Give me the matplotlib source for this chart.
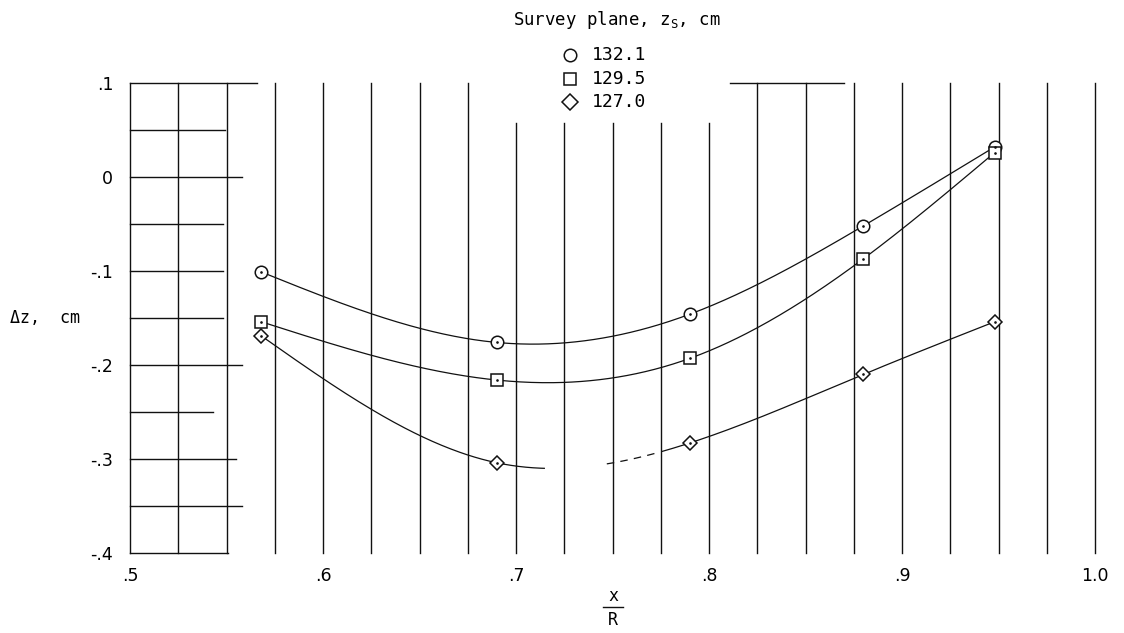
import numpy as np
import matplotlib
matplotlib.use("Agg")
import matplotlib.pyplot as plt
from matplotlib.lines import Line2D

plt.rcParams['mathtext.fontset'] = 'custom'
plt.rcParams['mathtext.rm'] = 'DejaVu Sans Mono'
plt.rcParams['mathtext.default'] = 'regular'

# ---------------- data ----------------
x_r = [0.568, 0.690, 0.790, 0.880, 0.948]
dz_132_1 = [-0.101, -0.176, -0.146, -0.052, 0.032]
dz_129_5 = [-0.154, -0.216, -0.193, -0.087, 0.026]
dz_127_0 = [-0.169, -0.304, -0.283, -0.210, -0.154]
series_labels = ['132.1', '129.5', '127.0']
series_markers = ['o', 's', 'D']

x_ticks = [0.5, 0.6, 0.7, 0.8, 0.9, 1.0]
x_tick_labels = ['.5', '.6', '.7', '.8', '.9', '1.0']
y_ticks = [0.1, 0.0, -0.1, -0.2, -0.3, -0.4]
y_tick_labels = ['.1', '0', '-.1', '-.2', '-.3', '-.4']

# grid (graph paper) description
vgrid_x = np.round(np.arange(0.5, 1.0001, 0.025), 3)
short_top_x = [0.7, 0.725, 0.75, 0.775, 0.8]   # lines that start lower (legend gap)
short_top_y = 0.057
hgrid_y = [0.1, 0.05, 0.0, -0.05, -0.1, -0.15, -0.2, -0.25, -0.3, -0.35, -0.4]
hgrid_end = [0.566, 0.549, 0.558, 0.548, 0.548, 0.548, 0.558, 0.543, 0.555, 0.558, 0.551]
top_seg = (0.811, 0.870)

# curve for 127.0 has a gap
gap_127 = (0.715, 0.747)
dash_127 = (0.747, 0.775)


def natural_spline(x, y, xs):
    x = np.asarray(x, float); y = np.asarray(y, float)
    n = len(x); h = np.diff(x)
    A = np.zeros((n, n)); b = np.zeros(n)
    A[0, 0] = 1; A[-1, -1] = 1
    for i in range(1, n - 1):
        A[i, i - 1] = h[i - 1]; A[i, i] = 2 * (h[i - 1] + h[i]); A[i, i + 1] = h[i]
        b[i] = 3 * ((y[i + 1] - y[i]) / h[i] - (y[i] - y[i - 1]) / h[i - 1])
    c = np.linalg.solve(A, b)
    out = np.empty_like(xs)
    for k, xv in enumerate(xs):
        i = min(max(np.searchsorted(x, xv) - 1, 0), n - 2)
        t = xv - x[i]
        bi = (y[i + 1] - y[i]) / h[i] - h[i] * (2 * c[i] + c[i + 1]) / 3
        di = (c[i + 1] - c[i]) / (3 * h[i])
        out[k] = y[i] + bi * t + c[i] * t ** 2 + di * t ** 3
    return out


fig = plt.figure(figsize=(11.24, 6.33), dpi=100)
W, H = 1124, 633
ax = fig.add_axes([130 / W, 1 - 553 / H, 965 / W, 470 / H])
ax.set_xlim(0.5, 1.0)
ax.set_ylim(-0.4, 0.1)
for s in ax.spines.values():
    s.set_visible(False)

lc = '#111111'
# vertical grid lines
for xv in vgrid_x:
    top = short_top_y if any(abs(xv - s) < 1e-6 for s in short_top_x) else 0.1
    ax.plot([xv, xv], [-0.4, top], color=lc, lw=1.0, clip_on=False, zorder=1)
# horizontal lines on the left
for yv, xe in zip(hgrid_y, hgrid_end):
    ax.plot([0.5, xe], [yv, yv], color=lc, lw=1.0, clip_on=False, zorder=1)
ax.plot(list(top_seg), [0.1, 0.1], color=lc, lw=1.0, clip_on=False, zorder=1)

# curves
xs = np.linspace(x_r[0], x_r[-1], 400)
for ys, mk in zip([dz_132_1, dz_129_5, dz_127_0], series_markers):
    yc = natural_spline(x_r, ys, xs)
    if mk == 'D':
        solid = yc.copy()
        solid[(xs > gap_127[0]) & (xs < dash_127[1])] = np.nan
        ax.plot(xs, solid, color=lc, lw=0.9, zorder=2)
        m = (xs >= dash_127[0]) & (xs <= dash_127[1])
        ax.plot(xs[m], yc[m], color=lc, lw=0.9, ls=(0, (6, 5)), zorder=2)
    else:
        ax.plot(xs, yc, color=lc, lw=0.9, zorder=2)
    ms = {'o': 9, 's': 8, 'D': 7.5}[mk]
    ax.plot(x_r, ys, ls='none', marker=mk, ms=ms, mfc='white', mec=lc, mew=1.1, zorder=3)
    ax.plot(x_r, ys, ls='none', marker='.', ms=1.8, color=lc, zorder=4)

# ticks
ax.set_xticks(x_ticks)
ax.set_xticklabels(x_tick_labels, fontsize=12.5, family='DejaVu Sans')
ax.set_yticks(y_ticks)
ax.set_yticklabels(y_tick_labels, fontsize=12.5, family='DejaVu Sans')
ax.tick_params(axis='x', length=0, pad=10)
ax.tick_params(axis='y', length=0, pad=12)

# axis labels
fig.text(10 / W, 1 - 318 / H, 'Δz,  cm', fontsize=12, family='DejaVu Sans Mono',
         ha='left', va='center')
fig.text(613 / W, 1 - 596 / H, 'x', fontsize=12, family='DejaVu Sans Mono', ha='center', va='center')
fig.text(613 / W, 1 - 620 / H, 'R', fontsize=12, family='DejaVu Sans Mono', ha='center', va='center')
fig.add_artist(Line2D([603 / W, 623 / W], [1 - 607 / H, 1 - 607 / H], color=lc, lw=1.0,
                      transform=fig.transFigure))

# legend
fig.text(617 / W, 1 - 20 / H, r'Survey plane, z$_{\mathrm{S}}$, cm', fontsize=12.5,
         family='DejaVu Sans Mono', ha='center', va='center')
for i, (lab, mk) in enumerate(zip(series_labels, series_markers)):
    yy = 1 - (55 + 23.5 * i) / H
    ms = {'o': 9, 's': 8, 'D': 8}[mk]
    fig.add_artist(Line2D([570 / W], [yy], marker=mk, ms=ms, mfc='white', mec=lc, mew=1.1,
                          ls='none', transform=fig.transFigure))
    fig.text(592 / W, yy, lab, fontsize=13, family='DejaVu Sans Mono', ha='left', va='center')

fig.savefig('out.png', dpi=100, facecolor='white')
